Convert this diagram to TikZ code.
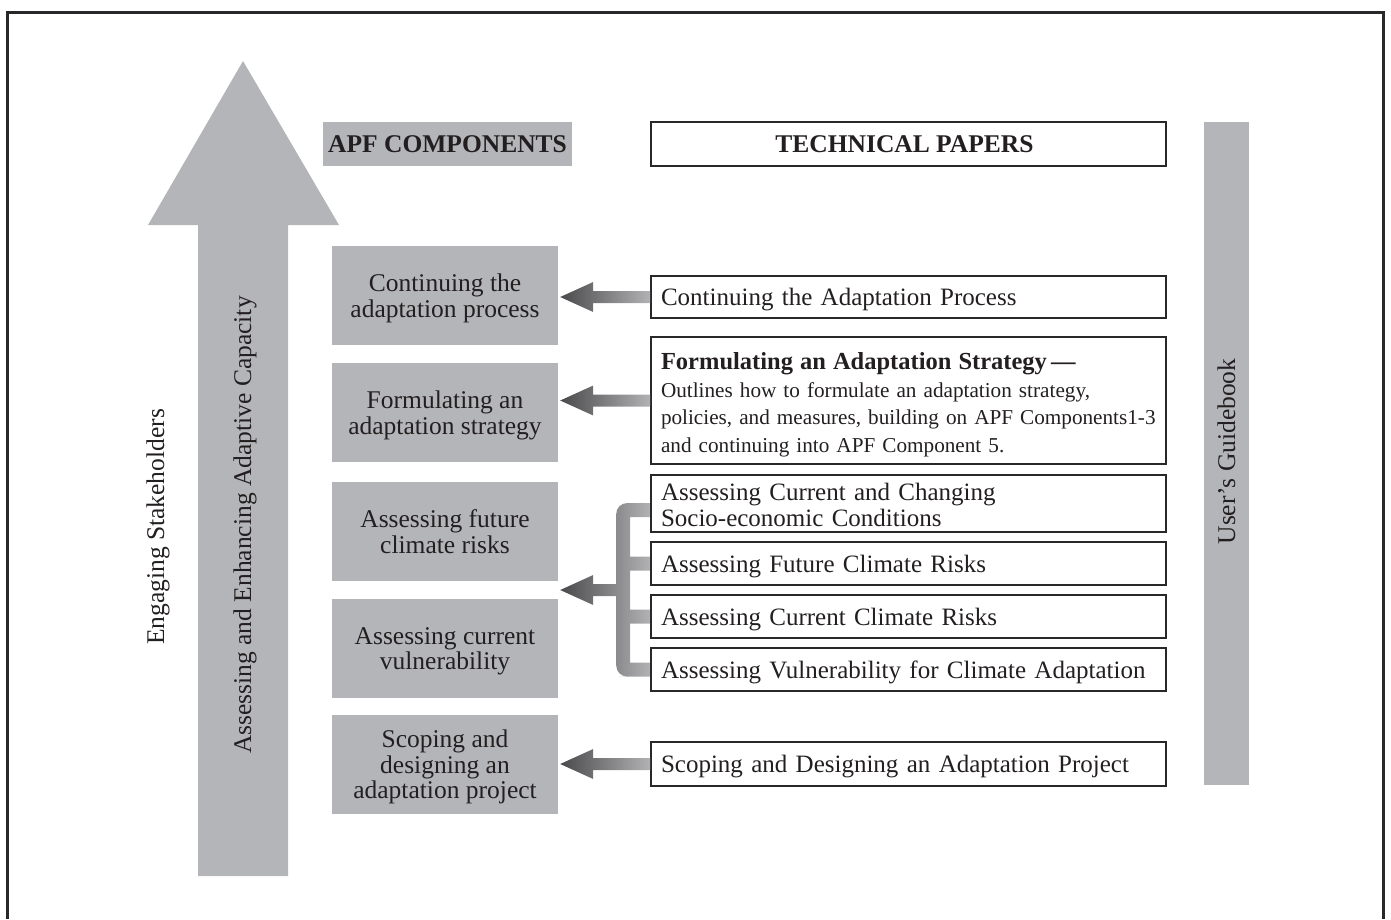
\documentclass[tikz,border=0pt]{standalone}
\usepackage{fontspec}
\setmainfont{Liberation Serif}
\usetikzlibrary{calc}

\definecolor{panel}{RGB}{180,181,184}
\definecolor{ink}{RGB}{35,31,32}
\definecolor{frameline}{RGB}{40,40,42}
\definecolor{arrowdark}{RGB}{74,74,76}
\definecolor{arrowlight}{RGB}{178,178,180}

% shaded block arrow from the west side of a paper box to the east side of a component box
\newcommand\paperarrow[2]{%
  \shade[left color=arrowdark, right color=arrowlight]
    let \p1=(#1.west), \p2=(#2.east) in
    (\x1,\y1+6pt) -- (\x2+35pt,\y1+6pt) -- (\x2+35pt,\y1+15pt) -- (\x2+2pt,\y1)
    -- (\x2+35pt,\y1-15pt) -- (\x2+35pt,\y1-6pt) -- (\x1,\y1-6pt) -- cycle;}

\tikzset{
  txt/.style={font=\fontsize{25.5}{25.5}\selectfont, text=ink},
  comp/.style={txt, fill=panel, minimum width=226pt, minimum height=99pt,
    align=center, inner sep=0pt, text depth=0pt},
  paper/.style={font=\fontsize{25}{25.5}\selectfont, text=ink, draw=frameline,
    line width=1.6pt, minimum width=515pt, text width=495pt, inner xsep=10pt,
    inner ysep=0pt, align=left},
  oneline/.style={paper, text depth=0pt},
  heading/.style={font=\fontsize{25.5}{25.5}\selectfont\bfseries, text=ink,
    inner sep=0pt, text depth=0pt},
  sidelabel/.style={txt, rotate=90, inner sep=0pt},
}

\begin{document}
\begin{tikzpicture}[x=1pt, y=-1pt]
\useasboundingbox (0,0) rectangle (1391,919);

% open frame (bottom edge falls outside the page)
\draw[frameline, line width=3pt] (7.5,919) -- (7.5,12) -- (1383.5,12) -- (1383.5,919);

% large upward arrow
\fill[panel] (243,61) -- (339,225) -- (288,225) -- (288,876) -- (198,876)
  -- (198,225) -- (148,225) -- cycle;
\node[sidelabel] (capacity) at (245,525) {Assessing and Enhancing Adaptive Capacity};
\node[sidelabel] (stake) at (158,527) {Engaging Stakeholders};

% column headings
\node[heading, fill=panel, minimum width=249pt, minimum height=44pt] (apf) at (447.5,144) {APF COMPONENTS};
\node[heading, draw=frameline, line width=1.6pt, minimum width=515pt, minimum height=44pt] (tp) at (908.5,144) {\hspace*{-8pt}TECHNICAL PAPERS};

% guidebook bar
\node[txt, fill=panel, rotate=90, minimum width=663pt, minimum height=45pt, inner sep=0pt] (guide) at (1226.5,453.5) {\hspace*{4pt}User’s Guidebook};

% APF components
\node[comp] (lc1) at (445,295.5) {Continuing the\\adaptation process};
\node[comp] (lc2) at (445,412.5) {Formulating an\\adaptation strategy};
\node[comp] (lc3) at (445,531.5) {Assessing future\\climate risks};
\node[comp] (lc4) at (445,648.5) {Assessing current\\vulnerability};
\node[comp] (lc5) at (445,764.5) {Scoping and\\designing an\\adaptation project};

% technical papers
\node[oneline, minimum height=42pt] (r1) at (908.5,297) {Continuing the Adaptation Process};
\node[paper, minimum height=127pt, font=\fontsize{21.2}{27.5}\selectfont] (r2) at (908.5,400.5)
  {{\fontsize{24.5}{27}\selectfont\bfseries\rule{0pt}{26pt}Formulating an Adaptation Strategy\,---}\\
   Outlines how to formulate an adaptation strategy,\\
   policies, and measures, building on APF Components1-3\\
   and continuing into APF Component 5.};
\node[paper, minimum height=57pt] (r3) at (908.5,503.5) {\rule{0pt}{20pt}Assessing Current and Changing\\Socio-economic Conditions};
\node[oneline, minimum height=43pt] (r4) at (908.5,563.5) {Assessing Future Climate Risks};
\node[oneline, minimum height=43pt] (r5) at (908.5,616.5) {Assessing Current Climate Risks};
\node[oneline, minimum height=43pt] (r6) at (908.5,669.5) {Assessing Vulnerability for Climate Adaptation};
\node[oneline, minimum height=44pt] (r7) at (908.5,764) {Scoping and Designing an Adaptation Project};

% single arrows
\paperarrow{r1}{lc1}
\paperarrow{r2}{lc2}
\paperarrow{r7}{lc5}

% bracket gathering the four assessment papers
\shade[left color=arrowdark, right color=arrowlight]
  let \p1=($(r3.west)+(0,6.5)$), \p2=(r4.west), \p3=(r5.west), \p4=(r6.west),
      \p5=($(lc3.south east)!0.5!(lc4.north east)$) in
  (\x1,\y1+7pt) -- (\x1-20pt,\y1+7pt) [rounded corners=11pt] -- (\x1-34pt,\y1+7pt)
  -- (\x1-34pt,\y1-20pt) [sharp corners] -- (\x1-34pt,\y5+6pt)
  -- (\x5+35pt,\y5+6pt) -- (\x5+35pt,\y5+15pt) -- (\x5+2pt,\y5)
  -- (\x5+35pt,\y5-15pt) -- (\x5+35pt,\y5-6pt) -- (\x1-34pt,\y5-6pt)
  -- (\x1-34pt,\y4+20pt) [rounded corners=11pt] -- (\x1-34pt,\y4-7pt)
  -- (\x1-20pt,\y4-7pt) [sharp corners] -- (\x1,\y4-7pt)
  -- (\x1,\y4+7pt) -- (\x1-20pt,\y4+7pt) -- (\x1-20pt,\y3-7pt) -- (\x1,\y3-7pt)
  -- (\x1,\y3+7pt) -- (\x1-20pt,\y3+7pt) -- (\x1-20pt,\y2-7pt) -- (\x1,\y2-7pt)
  -- (\x1,\y2+7pt) -- (\x1-20pt,\y2+7pt) -- (\x1-20pt,\y1-7pt) -- (\x1,\y1-7pt)
  -- cycle;
\end{tikzpicture}
\end{document}
